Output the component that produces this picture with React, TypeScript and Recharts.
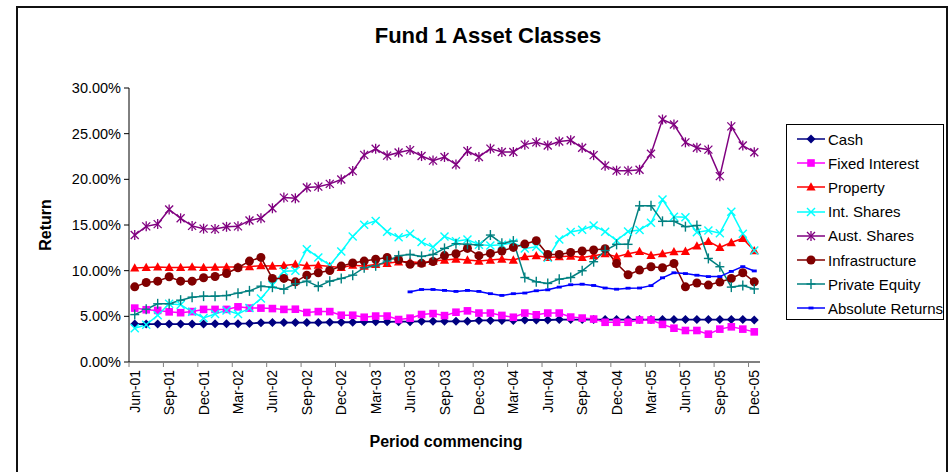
import React from "react";
import { LineChart, Line, XAxis, YAxis, Legend } from "recharts";

const categories = [
  "Jun-01","Jul-01","Aug-01","Sep-01","Oct-01","Nov-01","Dec-01","Jan-02","Feb-02","Mar-02","Apr-02","May-02",
  "Jun-02","Jul-02","Aug-02","Sep-02","Oct-02","Nov-02","Dec-02","Jan-03","Feb-03","Mar-03","Apr-03","May-03",
  "Jun-03","Jul-03","Aug-03","Sep-03","Oct-03","Nov-03","Dec-03","Jan-04","Feb-04","Mar-04","Apr-04","May-04",
  "Jun-04","Jul-04","Aug-04","Sep-04","Oct-04","Nov-04","Dec-04","Jan-05","Feb-05","Mar-05","Apr-05","May-05",
  "Jun-05","Jul-05","Aug-05","Sep-05","Oct-05","Nov-05","Dec-05",
];

const cash = [4.15,4.15,4.15,4.15,4.15,4.15,4.15,4.18,4.18,4.2,4.22,4.3,4.32,4.32,4.32,4.32,4.32,4.35,4.35,4.35,4.4,4.4,4.4,4.42,4.42,4.45,4.45,4.45,4.45,4.45,4.55,4.55,4.55,4.55,4.6,4.6,4.6,4.65,4.65,4.65,4.65,4.65,4.65,4.65,4.65,4.65,4.65,4.65,4.65,4.65,4.65,4.65,4.65,4.65,4.6];
const fixedInterest = [5.9,5.72,5.65,5.49,5.4,5.52,5.76,5.76,5.76,6.04,5.9,5.9,5.85,5.76,5.78,5.42,5.52,5.52,5.12,5.12,4.9,5.03,5.03,4.65,4.8,5.2,5.3,5.08,5.45,5.6,5.36,5.36,5.1,4.9,5.36,5.17,5.36,5.36,4.92,4.81,4.7,4.35,4.35,4.35,4.6,4.6,4.12,3.7,3.45,3.45,3.05,3.6,3.85,3.6,3.3];
const property = [10.3,10.35,10.4,10.35,10.35,10.4,10.35,10.38,10.4,10.4,10.43,10.55,10.5,10.57,10.7,10.53,10.6,10.45,10.35,10.6,10.5,10.68,10.8,10.97,10.97,10.86,11.05,11.16,11.27,11.16,11.05,11.16,11.27,11.16,11.53,11.64,11.45,11.53,11.6,11.45,11.64,11.85,11.52,11.85,12.1,11.67,11.85,12.07,12.12,12.7,13.2,12.55,13.08,13.53,12.18];
const intShares = [3.7,4.08,5.12,6.38,6.28,5.5,4.82,5.25,5.65,5.25,5.9,6.95,8.42,9.93,10.0,12.35,11.45,10.6,12.1,13.75,15.03,15.45,14.27,13.65,14.03,13.13,12.58,13.75,13.22,13.4,12.85,12.75,12.85,13.05,12.44,12.62,11.4,13.4,14.23,14.48,14.95,14.27,13.3,14.3,14.45,15.25,17.78,15.9,15.85,14.2,14.4,14.1,16.46,14.05,12.22];
const austShares = [13.9,14.85,15.1,16.7,15.73,14.9,14.6,14.55,14.8,14.85,15.5,15.73,16.83,18.0,17.92,19.1,19.2,19.5,19.98,20.9,22.68,23.34,22.6,22.94,23.2,22.55,22.05,22.45,21.62,23.1,22.45,23.36,23.0,23.0,23.8,24.05,23.7,24.15,24.27,23.45,22.65,21.5,20.95,20.95,21.05,22.8,26.55,26.0,24.05,23.45,23.25,20.35,25.8,23.7,22.97];
const infrastructure = [8.23,8.71,8.85,9.33,8.85,8.85,9.22,9.36,9.69,10.32,11.05,11.45,9.15,9.15,8.78,9.51,9.77,10.02,10.5,10.85,11.05,11.25,11.45,11.2,10.7,10.8,11.0,11.65,11.85,12.44,11.64,11.89,12.15,12.55,12.91,13.28,11.78,11.78,12.0,12.15,12.26,12.4,10.79,9.55,10.06,10.43,10.32,10.79,8.23,8.65,8.42,8.75,9.15,9.77,8.78];
const privateEquity = [5.19,5.78,6.37,6.37,6.77,7.1,7.21,7.21,7.28,7.54,7.79,8.3,8.19,7.97,8.56,8.85,8.27,8.85,9.15,9.51,10.32,10.53,11.05,11.63,11.78,11.56,11.78,12.44,12.95,12.88,12.8,13.9,12.99,13.24,9.25,8.78,8.6,9.07,9.25,9.99,10.98,12.2,12.88,12.88,17.1,17.1,15.4,15.4,14.82,14.95,11.34,10.43,8.2,8.38,8.0];
const absoluteReturns = [null,null,null,null,null,null,null,null,null,null,null,null,null,null,null,null,null,null,null,null,null,null,null,null,7.68,7.94,7.94,7.84,7.73,7.84,7.73,7.48,7.29,7.48,7.55,7.8,7.9,8.2,8.46,8.52,8.38,8.1,7.97,8.08,8.1,8.36,9.22,9.77,9.68,9.5,9.35,9.35,9.92,10.44,9.97];

const yTicks = [0, 5, 10, 15, 20, 25, 30];

const seriesDefs = [
  { key: "cash", name: "Cash", values: cash, color: "#000080", shape: "diamond", width: 1.8 },
  { key: "fixedInterest", name: "Fixed Interest", values: fixedInterest, color: "#FF00FF", shape: "square", width: 1.5 },
  { key: "property", name: "Property", values: property, color: "#FF0000", shape: "triangle", width: 1.5 },
  { key: "intShares", name: "Int. Shares", values: intShares, color: "#00FFFF", shape: "x", width: 1.5 },
  { key: "austShares", name: "Aust. Shares", values: austShares, color: "#800080", shape: "star", width: 1.5 },
  { key: "infrastructure", name: "Infrastructure", values: infrastructure, color: "#800000", shape: "circle", width: 1.5 },
  { key: "privateEquity", name: "Private Equity", values: privateEquity, color: "#008080", shape: "plus", width: 1.5 },
  { key: "absoluteReturns", name: "Absolute Returns", values: absoluteReturns, color: "#0000FF", shape: "dash", width: 1.5 },
];

const data = categories.map((c, i) => {
  const row: any = { period: c };
  seriesDefs.forEach((s) => { row[s.key] = s.values[i]; });
  return row;
});

function Marker({ shape, cx, cy, color }: { shape: string; cx: number; cy: number; color: string }) {
  switch (shape) {
    case "diamond":
      return <polygon points={`${cx},${cy - 4.5} ${cx + 4.5},${cy} ${cx},${cy + 4.5} ${cx - 4.5},${cy}`} fill={color} />;
    case "square":
      return <rect x={cx - 3.8} y={cy - 3.8} width={7.6} height={7.6} fill={color} />;
    case "triangle":
      return <polygon points={`${cx},${cy - 4.8} ${cx + 4.6},${cy + 3.6} ${cx - 4.6},${cy + 3.6}`} fill={color} />;
    case "x":
      return (
        <g stroke={color} strokeWidth={1.4}>
          <line x1={cx - 4} y1={cy - 4} x2={cx + 4} y2={cy + 4} />
          <line x1={cx - 4} y1={cy + 4} x2={cx + 4} y2={cy - 4} />
        </g>
      );
    case "star":
      return (
        <g stroke={color} strokeWidth={1.3}>
          <line x1={cx - 4} y1={cy - 4} x2={cx + 4} y2={cy + 4} />
          <line x1={cx - 4} y1={cy + 4} x2={cx + 4} y2={cy - 4} />
          <line x1={cx} y1={cy - 5} x2={cx} y2={cy + 5} />
        </g>
      );
    case "circle":
      return <circle cx={cx} cy={cy} r={4.5} fill={color} />;
    case "plus":
      return (
        <g stroke={color} strokeWidth={1.4}>
          <line x1={cx - 4.5} y1={cy} x2={cx + 4.5} y2={cy} />
          <line x1={cx} y1={cy - 5} x2={cx} y2={cy + 5} />
        </g>
      );
    case "dash":
      return <rect x={cx - 2.5} y={cy - 1.4} width={5} height={2.8} fill={color} />;
    default:
      return null;
  }
}

const makeDot = (shape: string, color: string) => (props: any) => {
  const { cx, cy, index, value } = props;
  if (cx == null || cy == null || value == null || isNaN(cy)) return <g key={`d-${index}`} />;
  return (
    <g key={`d-${index}`}>
      <Marker shape={shape} cx={cx} cy={cy} color={color} />
    </g>
  );
};

const PLOT_LEFT = 129;
const PLOT_RIGHT = 760;
const HALF_BAND = (PLOT_RIGHT - PLOT_LEFT) / categories.length / 2;

const XTick = (props: any) => {
  const { x, y, payload } = props;
  return (
    <g>
      <line x1={x - HALF_BAND} x2={x - HALF_BAND} y1={y} y2={y + 5} stroke="#808080" strokeWidth={1} />
      <text
        transform={`translate(${x + 5},${y + 8}) rotate(-90)`}
        textAnchor="end"
        fontSize={14}
        fill="#000"
      >
        {payload.value}
      </text>
    </g>
  );
};

const LegendContent = () => (
  <div
    style={{
      width: 158,
      height: 196,
      border: "1px solid #000",
      background: "#fff",
      boxSizing: "border-box",
      paddingTop: 2,
    }}
  >
    {seriesDefs.map((s) => (
      <div key={s.key} style={{ display: "flex", alignItems: "center", height: 24.2 }}>
        <svg width={40} height={14} style={{ flex: "none" }}>
          <line x1={10} x2={38} y1={7} y2={7} stroke={s.color} strokeWidth={1.5} />
          <Marker shape={s.shape} cx={24} cy={7} color={s.color} />
        </svg>
        <span style={{ fontSize: 15, color: "#000", whiteSpace: "nowrap", marginLeft: 1 }}>{s.name}</span>
      </div>
    ))}
  </div>
);

export default function App() {
  return (
    <div
      style={{
        position: "absolute",
        left: 0,
        top: 0,
        width: 951,
        height: 472,
        background: "#fff",
        fontFamily: "'Liberation Sans', Arial, sans-serif",
        overflow: "hidden",
      }}
    >
      <div
        style={{
          position: "absolute",
          left: 16,
          top: 6,
          width: 932,
          height: 500,
          border: "2px solid #111",
          boxSizing: "border-box",
        }}
      />
      <div
        style={{
          position: "absolute",
          left: 0,
          width: 976,
          top: 23,
          textAlign: "center",
          fontSize: 22,
          fontWeight: "bold",
          color: "#000",
        }}
      >
        Fund 1 Asset Classes
      </div>
      <div style={{ position: "absolute", left: 0, top: 0 }}>
        <LineChart
          width={951}
          height={472}
          data={data}
          margin={{ top: 88, right: 951 - PLOT_RIGHT, bottom: 20, left: 0 }}
        >
          <XAxis
            dataKey="period"
            interval={2}
            tickSize={0}
            tickMargin={0}
            height={90}
            padding={{ left: HALF_BAND, right: HALF_BAND }}
            axisLine={{ stroke: "#808080", strokeWidth: 2 }}
            tickLine={false}
            tick={<XTick />}
            label={(p: any) => {
              const vb = p.viewBox || {};
              return (
                <text x={446} y={(vb.y ?? 362) + 85} textAnchor="middle" fontSize={16} fontWeight="bold" fill="#000">
                  Period commencing
                </text>
              );
            }}
          />
          <YAxis
            width={PLOT_LEFT}
            domain={[0, 30]}
            ticks={yTicks}
            interval={0}
            tickSize={5}
            tickMargin={3}
            axisLine={{ stroke: "#000", strokeWidth: 1 }}
            tickLine={{ stroke: "#000" }}
            tick={{ fontSize: 14.5, fill: "#000" }}
            tickFormatter={(v: number) => `${v.toFixed(2)}%`}
            label={(p: any) => {
              const vb = p.viewBox || {};
              const cy = (vb.y ?? 88) + (vb.height ?? 274) / 2;
              return (
                <text transform={`translate(51,${cy}) rotate(-90)`} textAnchor="middle" fontSize={16} fontWeight="bold" fill="#000">
                  Return
                </text>
              );
            }}
          />
          <Legend
            layout="vertical"
            align="center"
            verticalAlign="middle"
            wrapperStyle={{ left: 786, top: 124, width: 160 }}
            content={<LegendContent />}
          />
          {seriesDefs.map((s) => (
            <Line
              key={s.key}
              type="linear"
              dataKey={s.key}
              name={s.name}
              stroke={s.color}
              strokeWidth={s.width}
              dot={makeDot(s.shape, s.color)}
              activeDot={false}
              isAnimationActive={false}
              connectNulls={false}
            />
          ))}
        </LineChart>
      </div>
    </div>
  );
}
